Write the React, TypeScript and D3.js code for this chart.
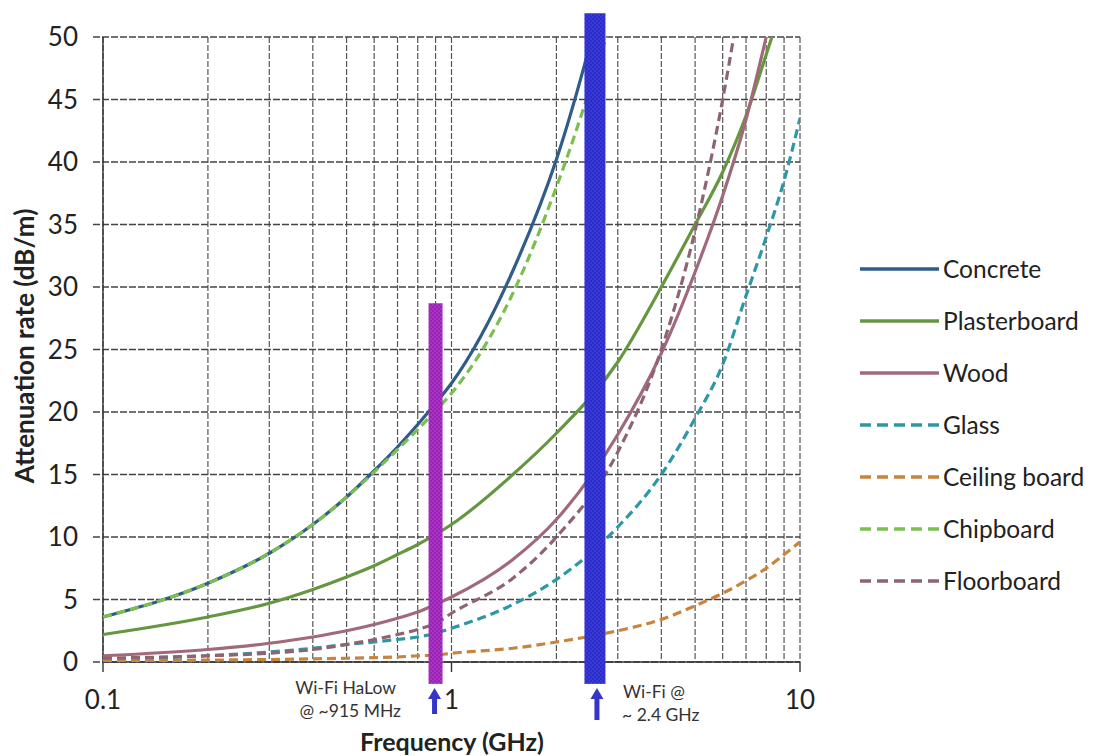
import React from "react";
import * as d3 from "d3";

const freqs = [0.1, 0.2, 0.3, 0.4, 0.5, 0.6, 0.7, 0.8, 0.9, 1, 1.5, 2, 3, 4, 5, 6, 7, 8, 9, 10];

const concrete = [3.6, 6.3, 8.7, 11.0, 13.2, 15.3, 17.2, 19.0, 20.7, 22.3, 31.3, 40.2, 58];
const plasterboard = [2.2, 3.6, 4.7, 5.8, 6.8, 7.7, 8.6, 9.4, 10.2, 11, 15.0, 18.3, 24, 30, 35, 39.2, 43.7, 48.6, 53];
const wood = [0.5, 1.0, 1.5, 2.0, 2.5, 3.0, 3.5, 4.0, 4.6, 5.2, 8.2, 11.4, 18.2, 24.7, 31.2, 37.3, 43.4, 50, 56];
const glass = [0.2, 0.5, 0.8, 1.1, 1.4, 1.6, 1.8, 2.0, 2.3, 2.7, 4.6, 6.6, 10.8, 15, 19.5, 23.8, 29.3, 34, 38.5, 43.5];
const ceilingBoard = [0.1, 0.15, 0.2, 0.25, 0.3, 0.35, 0.4, 0.5, 0.55, 0.7, 1.1, 1.6, 2.5, 3.4, 4.5, 5.5, 6.5, 7.5, 8.6, 9.6];
const chipboard = [3.6, 6.3, 8.7, 11.0, 13.2, 15.2, 17.0, 18.6, 20.1, 21.5, 29.5, 38, 53];
const floorboard = [0.3, 0.5, 0.7, 1.0, 1.4, 1.8, 2.2, 2.6, 3.1, 3.9, 6.7, 10, 16.8, 25, 34.5, 45, 56];

const seriesNames = ["Concrete", "Plasterboard", "Wood", "Glass", "Ceiling board", "Chipboard", "Floorboard"];
const seriesValues = [concrete, plasterboard, wood, glass, ceilingBoard, chipboard, floorboard];
const seriesColors = ["#2f5d87", "#659640", "#a06a78", "#2e97a6", "#c8843c", "#7cbf50", "#8f6472"];
const seriesDashed = [false, false, false, true, true, true, true];

const yTicks = [0, 5, 10, 15, 20, 25, 30, 35, 40, 45, 50];
const xTickLabels = [0.1, 1, 10];
const xGrid = [0.1, 0.2, 0.3, 0.4, 0.5, 0.6, 0.7, 0.8, 0.9, 1, 2, 3, 4, 5, 6, 7, 8, 9, 10];

// Frequency bands highlighted: [freq, top value, bottom value]
const haLowBand = { freq: 0.9, top: 28.7, bottom: -1.75 };
const wifiBand = { freq: 2.58, top: 51.9, bottom: -1.75 };

const FONT = "Lato, 'Open Sans', sans-serif";

export default function App() {
  const W = 1096, H = 756;
  const x = d3.scaleLog().domain([0.1, 10]).range([103, 800]);
  const y = d3.scaleLinear().domain([0, 50]).range([662, 37]);

  const line = d3
    .line<[number, number]>()
    .x((d) => x(d[0]))
    .y((d) => y(d[1]))
    .curve(d3.curveMonotoneX);

  const arrow = (cx: number, tip: number, bottom: number) =>
    `M${cx},${tip} L${cx + 6.5},${tip + 11} L${cx + 2.5},${tip + 11} L${cx + 2.5},${bottom} L${cx - 2.5},${bottom} L${cx - 2.5},${tip + 11} L${cx - 6.5},${tip + 11} Z`;

  const legendY0 = 269, legendStep = 52;

  return (
    <svg width={W} height={H} style={{ position: "absolute", left: 0, top: 0, background: "#fff" }} fontFamily={FONT}>
      <defs>
        <clipPath id="plot">
          <rect x={103} y={37} width={697} height={625} />
        </clipPath>
        <pattern id="purpleCheck" width="4" height="4" patternUnits="userSpaceOnUse">
          <rect width="4" height="4" fill="#9b22b6" />
          <rect width="2" height="2" fill="#a936c2" />
          <rect x="2" y="2" width="2" height="2" fill="#a936c2" />
        </pattern>
        <pattern id="blueCheck" width="4" height="4" patternUnits="userSpaceOnUse">
          <rect width="4" height="4" fill="#2c2cc8" />
          <rect width="2" height="2" fill="#3a3ad6" />
          <rect x="2" y="2" width="2" height="2" fill="#3a3ad6" />
        </pattern>
      </defs>

      {/* grid */}
      {xGrid.map((f) => (
        <line key={"vx" + f} x1={x(f)} x2={x(f)} y1={37} y2={662} stroke="#555" strokeWidth={1.2} strokeDasharray="6,2" />
      ))}
      {yTicks.map((t) => (
        <line key={"hy" + t} x1={93} x2={800} y1={y(t)} y2={y(t)} stroke="#444" strokeWidth={1.4} strokeDasharray="7,2" />
      ))}
      {/* axes */}
      <line x1={103} x2={103} y1={37} y2={662} stroke="#333" strokeWidth={1.4} />
      <line x1={103} x2={800} y1={662} y2={662} stroke="#333" strokeWidth={1.4} />
      {xTickLabels.map((t) => (
        <line key={"xt" + t} x1={x(t)} x2={x(t)} y1={662} y2={672} stroke="#333" strokeWidth={1.4} />
      ))}

      {/* tick labels */}
      {yTicks.map((t) => (
        <text key={"yl" + t} x={78} y={y(t)} dy="0.35em" textAnchor="end" fontSize={26} fill="#222">
          {t}
        </text>
      ))}
      {xTickLabels.map((t) => (
        <text key={"xl" + t} x={x(t)} y={700} dy="0.35em" textAnchor="middle" fontSize={26} fill="#222">
          {t}
        </text>
      ))}

      {/* series */}
      <g clipPath="url(#plot)">
        {seriesValues.map((vals, i) => {
          const pts: [number, number][] = vals.map((v, j) => [freqs[j], v]);
          return (
            <path
              key={seriesNames[i]}
              d={line(pts) || ""}
              fill="none"
              stroke={seriesColors[i]}
              strokeWidth={3.2}
              strokeDasharray={seriesDashed[i] ? "9,5" : undefined}
            />
          );
        })}
      </g>

      {/* bands */}
      <rect x={x(haLowBand.freq) - 7} y={y(haLowBand.top)} width={14} height={y(haLowBand.bottom) - y(haLowBand.top)} fill="url(#purpleCheck)" />
      <rect x={x(wifiBand.freq) - 10.5} y={y(wifiBand.top)} width={21} height={y(wifiBand.bottom) - y(wifiBand.top)} fill="url(#blueCheck)" />

      {/* arrows */}
      <path d={arrow(x(haLowBand.freq) - 1, 688, 714)} fill="#3535c8" />
      <path d={arrow(x(wifiBand.freq) + 2, 688, 720)} fill="#3535c8" />

      {/* band annotations */}
      <text x={396} y={688} dy="0.35em" textAnchor="end" fontSize={17.5} fill="#333">Wi-Fi HaLow</text>
      <text x={401} y={711} dy="0.35em" textAnchor="end" fontSize={17.5} fill="#333">@ ~915 MHz</text>
      <text x={623} y={692} dy="0.35em" textAnchor="start" fontSize={17.5} fill="#333">Wi-Fi @</text>
      <text x={622} y={715} dy="0.35em" textAnchor="start" fontSize={17.5} fill="#333">~ 2.4 GHz</text>

      {/* axis titles */}
      <text x={452} y={742} dy="0.35em" textAnchor="middle" fontSize={25} fontWeight="bold" fill="#222">
        Frequency (GHz)
      </text>
      <text transform="translate(25,346) rotate(-90)" dy="0.35em" textAnchor="middle" fontSize={26} fontWeight="bold" fill="#222">
        Attenuation rate (dB/m)
      </text>

      {/* legend */}
      {seriesNames.map((name, i) => {
        const ly = legendY0 + i * legendStep;
        return (
          <g key={"lg" + name}>
            <line x1={860} x2={939} y1={ly} y2={ly} stroke={seriesColors[i]} strokeWidth={3.5} strokeDasharray={seriesDashed[i] ? "11,6" : undefined} />
            <text x={943} y={ly} dy="0.35em" fontSize={24.5} fill="#222">
              {name}
            </text>
          </g>
        );
      })}
    </svg>
  );
}
